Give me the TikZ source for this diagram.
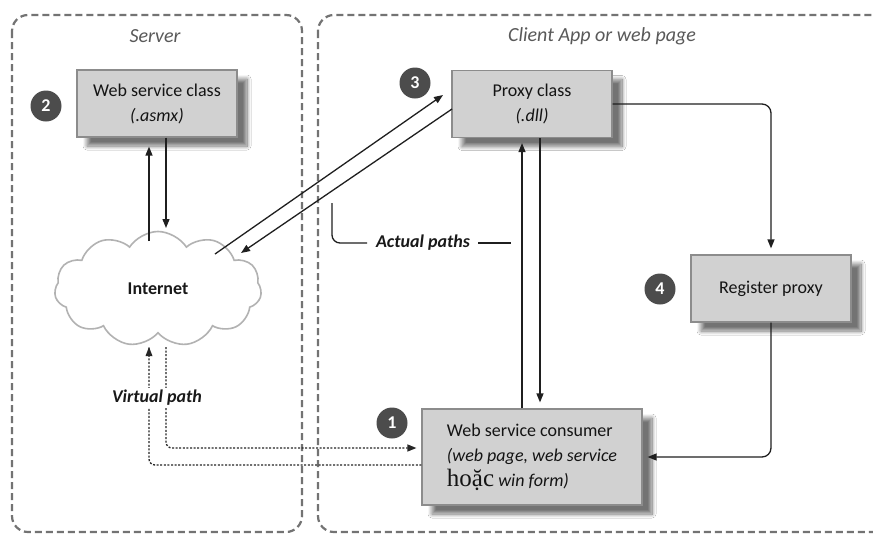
\documentclass[tikz,border=0pt]{standalone}
\usepackage{fontspec}
\setmainfont{Carlito}
\newfontfamily\vietfont{Liberation Serif}
\usetikzlibrary{arrows.meta,shapes.symbols,shadows.blur,calc}
\tikzset{
  container/.style={draw=black!55, line width=2.2pt, dash pattern=on 7pt off 4pt, rounded corners=16pt},
  ctitle/.style={font=\itshape\fontsize{20}{22}\selectfont, text=black!65},
  box/.style={draw=black!45, line width=1.2pt, fill=black!18, minimum width=160pt, minimum height=67pt,
    align=center, inner sep=0pt, font=\fontsize{18}{25}\selectfont, text=black!92,
    blur shadow={shadow xshift=10pt, shadow yshift=-9pt, shadow opacity=55, shadow blur steps=14, shadow blur radius=4pt}},
  badge/.style={circle, fill=black!70, text=white, font=\bfseries\fontsize{18}{18}\selectfont, minimum size=31pt, inner sep=0pt},
  conn/.style={draw=black!88, line width=1.3pt},
  arr/.style={conn, -{Triangle[length=9pt,width=7pt]}},
  vpath/.style={draw=black!85, line width=1.3pt, dash pattern=on 2pt off 1.6pt},
  plabel/.style={font=\bfseries\itshape\fontsize{18}{20}\selectfont, text=black!90, fill=white, inner sep=2pt}
}
\begin{document}
\begin{tikzpicture}[x=1pt,y=-1pt]
\useasboundingbox (0,0) rectangle (873,536);
\clip (0,0) rectangle (873,536);
\fill[white] (0,0) rectangle (873,536);

% containers
\draw[container] (12,15) rectangle (302,532);
\draw[container] (318,15) rectangle (910,532);
\node[ctitle] (srvt) at (155,36) {Server};
\node[ctitle] (clit) at (602,36) {Client App or web page};

% boxes
\node[box] (wsc) at (157,103.5) {Web service class\\\itshape(.asmx)};
\node[box] (proxy) at (532,104) {Proxy class\\\itshape(.dll)};
\node[box] (reg) at (771,288.5) {Register proxy};
\node[box, minimum width=220pt, minimum height=96pt, align=left] (cons) at (532,457)
  {Web service consumer\\\itshape(web page, web service\\{\vietfont\upshape\fontsize{25}{25}\selectfont ho\d{\u{a}}c} \itshape win form)};

% cloud
\node[cloud, cloud puffs=11, cloud puff arc=115, aspect=1.8, draw=black!30, line width=1.6pt, fill=white,
  minimum width=207pt, minimum height=115pt, inner sep=0pt, font=\bfseries\fontsize{18}{20}\selectfont, text=black!90]
  (cloud) at (158,289) {Internet};

% badges
\node[badge] (b1) at (392,423) {1};
\node[badge] (b2) at (46,106) {2};
\node[badge] (b3) at (415,83) {3};
\node[badge] (b4) at (660,289) {4};

% server <-> internet
\coordinate (c1) at (149,241);
\coordinate (c2) at (166,228);
\draw[arr, shorten >=9pt] (c1) -- (c1 |- wsc.south);
\draw[arr] (c2 |- wsc.south) -- (c2);

% internet <-> proxy
\coordinate (d1) at (215,254);
\coordinate (d2) at (443,95);
\coordinate (d3) at (452,109);
\coordinate (d4) at (241,253);
\draw[arr] (d1) -- (d2);
\draw[arr] (d3) -- (d4);

% proxy <-> consumer
\coordinate (p1) at (522,0);
\coordinate (p2) at (540,0);
\draw[arr, shorten >=5pt] (p1 |- cons.north) -- (p1 |- proxy.south);
\draw[arr, shorten >=6pt] (p2 |- proxy.south) -- (p2 |- cons.north);

% proxy -> register -> consumer
\draw[arr, rounded corners=9pt, shorten >=6pt] (proxy.east) -| (reg.north);
\draw[arr, rounded corners=9pt] (reg.south) |- ([xshift=5pt]cons.east);

% virtual paths
\coordinate (v1) at (149,347);
\coordinate (v2) at (166,347);
\draw[vpath, rounded corners=6pt] ([yshift=-8pt]cons.west) -| (v1);
\draw[vpath, -{Triangle[length=9pt,width=7pt]}, rounded corners=6pt, shorten >=5pt] (v2) |- ([yshift=9pt]cons.west);
\fill[black!85] (v1) -- ++(-3.5,9) -- ++(7,0) -- cycle;
\node[plabel] (vp) at (157,398) {Virtual path};

% actual paths bracket
\coordinate (a1) at (332,203);
\coordinate (a2) at (367,243);
\coordinate (a3) at (478,243);
\coordinate (a4) at (511,243);
\node[plabel, fill=none] (ap) at (423,243) {Actual paths};
\draw[conn, rounded corners=8pt] (a1) |- (a2);
\draw[conn] (a3) -- (a4);
\end{tikzpicture}
\end{document}
